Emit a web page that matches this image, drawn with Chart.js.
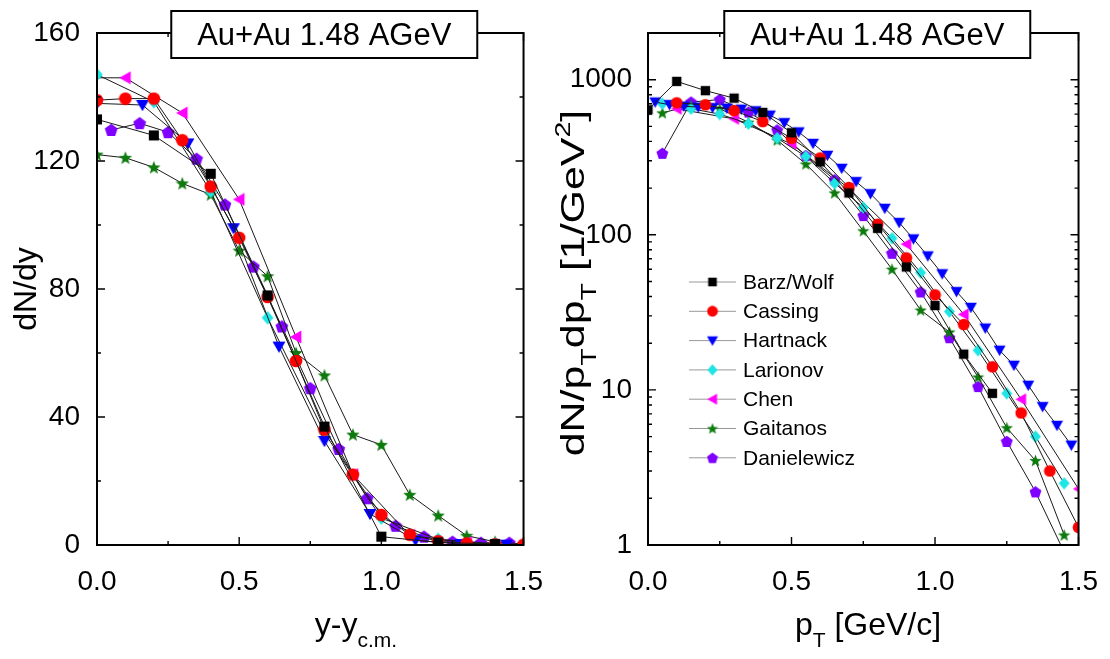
<!DOCTYPE html>
<html>
<head>
<meta charset="utf-8">
<script src="https://cdn.jsdelivr.net/npm/chart.js@4.4.0/dist/chart.umd.min.js"></script>
<style>
html, body { margin: 0; padding: 0; background: #fff; }
#wrap { display: flex; width: 1110px; height: 659px; }
.panel { position: relative; width: 555px; height: 659px; }
</style>
</head>
<body>
<div id="wrap">
  <div class="panel"><canvas id="rapChart"></canvas></div>
  <div class="panel"><canvas id="ptChart"></canvas></div>
</div>
<script>
// ---- rapidity distribution (left panel) ----
const rapBarzX = [0, 0.2, 0.4, 0.6, 0.8, 1.0, 1.2, 1.4]
const rapBarzY = [133, 128, 116, 78, 37, 2.6, 0.8, 0.3]
const rapCassingX = [0, 0.1, 0.2, 0.3, 0.4, 0.5, 0.6, 0.7, 0.8, 0.9, 1.0, 1.1, 1.2, 1.3, 1.4, 1.5]
const rapCassingY = [139, 139.5, 139.5, 126.5, 112, 96, 77.5, 57.5, 36, 22, 9.4, 3.2, 1.2, 0.5, 0.2, 0.1]
const rapHartnackX = [0, 0.16, 0.32, 0.48, 0.64, 0.8, 0.96, 1.12, 1.28, 1.44]
const rapHartnackY = [138, 137.5, 125.5, 99, 62, 32.5, 9.7, 1.5, 0.3, 0.1]
const rapLarionovX = [0, 0.2, 0.4, 0.6, 0.8, 1.0, 1.2, 1.4]
const rapLarionovY = [147, 138.5, 110.5, 71, 35, 8.4, 1.8, 0.4]
const rapChenX = [-0.1, 0.1, 0.3, 0.5, 0.7, 0.9, 1.1, 1.3, 1.5]
const rapChenY = [146, 146, 135, 108, 65, 22, 3, 0.7, 0.1]
const rapGaitanosX = [0, 0.1, 0.2, 0.3, 0.4, 0.5, 0.6, 0.7, 0.8, 0.9, 1.0, 1.1, 1.2, 1.3, 1.4, 1.5]
const rapGaitanosY = [122, 121, 118, 113, 109.5, 92, 84, 60, 53, 34.5, 31.3, 15.7, 9.2, 2.9, 1.0, 0.3]
const rapDanielewiczX = [0.05, 0.15, 0.25, 0.35, 0.45, 0.55, 0.65, 0.75, 0.85, 0.95, 1.05, 1.15, 1.25, 1.35, 1.45]
const rapDanielewiczY = [129.7, 131.8, 129, 120.7, 106.4, 87, 68.3, 49, 30, 14.6, 6.0, 2.6, 1.0, 0.7, 0.7]

// ---- transverse momentum spectra (right panel) ----
const ptBarzX = [0, 0.1, 0.2, 0.3, 0.4, 0.5, 0.6, 0.7, 0.8, 0.9, 1.0, 1.1, 1.2]
const ptBarzY = [640, 975, 850, 760, 615, 455, 295, 186, 110, 62, 35, 17, 9.5]
const ptCassingX = [0.1, 0.2, 0.3, 0.4, 0.5, 0.6, 0.7, 0.8, 0.9, 1.0, 1.1, 1.2, 1.3, 1.4, 1.5]
const ptCassingY = [709, 689, 632, 537, 419, 313, 202, 117, 71, 41, 26.4, 14.1, 7.1, 3.0, 1.3]
const ptHartnackX = [0.025, 0.075, 0.125, 0.175, 0.225, 0.275, 0.325, 0.375, 0.425, 0.475,
    0.525, 0.575, 0.625, 0.675, 0.725, 0.775, 0.825, 0.875, 0.925, 0.975,
    1.025, 1.075, 1.125, 1.175, 1.225, 1.275, 1.325, 1.375, 1.425, 1.475]
const ptHartnackY = [717, 690, 675, 665, 660, 655, 645, 630, 590, 528,
    460, 388, 325, 268, 220, 184, 148, 120, 94, 73,
    56, 43, 34, 25, 18, 14.4, 10.7, 7.8, 5.9, 4.4]
const ptLarionovX = [0.05, 0.15, 0.25, 0.35, 0.45, 0.55, 0.65, 0.75, 0.85, 0.95, 1.05, 1.15, 1.25, 1.35, 1.45]
const ptLarionovY = [700, 650, 600, 520, 420, 320, 215, 150, 95, 57, 32, 18, 9.5, 5.0, 2.5]
const ptChenX = [0.1, 0.3, 0.5, 0.7, 0.9, 1.1, 1.3, 1.5]
const ptChenY = [649, 559, 385, 199, 87, 30.7, 8.7, 2.3]
const ptGaitanosX = [0.05, 0.15, 0.25, 0.35, 0.45, 0.55, 0.65, 0.75, 0.85, 0.95, 1.05, 1.15, 1.25, 1.35, 1.45]
const ptGaitanosY = [611, 681, 649, 532, 408, 286, 186, 106, 60, 32.7, 23.6, 12.1, 5.7, 3.5, 1.16]
const ptDanielewiczX = [0.05, 0.15, 0.25, 0.35, 0.45, 0.55, 0.65, 0.75, 0.85, 0.95, 1.05, 1.15, 1.25, 1.35, 1.45]
const ptDanielewiczY = [335, 717, 745, 618, 474, 324, 226, 133, 76, 42.8, 21.7, 10.5, 4.65, 2.2, 0.9]

const seriesNames = ['Barz/Wolf', 'Cassing', 'Hartnack', 'Larionov', 'Chen', 'Gaitanos', 'Danielewicz']
const seriesColors = ['#000000', '#ff0000', '#0000ff', '#1ee6e6', '#ff00ff', '#0c7a0c', '#7f00ff']
const seriesShapes = ['square', 'circle', 'triDown', 'diamond', 'triLeft', 'star', 'pentagon']

const xTickLabels = [0, 0.5, 1.0, 1.5]
const rapTickLabels = [0, 40, 80, 120, 160]
const ptTickLabels = [1, 10, 100, 1000]

const FONT = "'Liberation Sans', Arial, Helvetica, sans-serif"

// marker images, drawn once and used as pointStyle
function marker(shape, color, s) {
    const c = document.createElement('canvas')
    c.width = s; c.height = s
    const g = c.getContext('2d')
    const m = s / 2
    g.fillStyle = color
    g.beginPath()
    if (shape === 'square') {
        const h = s * 0.36
        g.rect(m - h, m - h, 2 * h, 2 * h)
    } else if (shape === 'circle') {
        g.arc(m, m, s * 0.45, 0, Math.PI * 2)
    } else if (shape === 'triDown') {
        g.moveTo(m - s * 0.46, m - s * 0.36); g.lineTo(m + s * 0.46, m - s * 0.36); g.lineTo(m, m + s * 0.44)
    } else if (shape === 'triLeft') {
        g.moveTo(m - s * 0.44, m); g.lineTo(m + s * 0.38, m - s * 0.46); g.lineTo(m + s * 0.38, m + s * 0.46)
    } else if (shape === 'diamond') {
        g.moveTo(m, m - s * 0.48); g.lineTo(m + s * 0.42, m); g.lineTo(m, m + s * 0.48); g.lineTo(m - s * 0.42, m)
    } else if (shape === 'star') {
        for (let i = 0; i < 10; i++) {
            const r = i % 2 ? s * 0.21 : s * 0.5
            const a = -Math.PI / 2 + i * Math.PI / 5
            g.lineTo(m + r * Math.cos(a), m + 0.5 + r * Math.sin(a))
        }
    } else if (shape === 'pentagon') {
        for (let i = 0; i < 5; i++) {
            const a = -Math.PI / 2 + i * 2 * Math.PI / 5
            g.lineTo(m + s * 0.48 * Math.cos(a), m + 0.5 + s * 0.48 * Math.sin(a))
        }
    }
    g.closePath()
    g.fill()
    return c
}

const pts = (xs, ys) => xs.map((x, i) => ({ x: x, y: ys[i] }))

function buildSets(xsList, ysList, size) {
    return xsList.map((xs, i) => ({
        label: seriesNames[i],
        data: pts(xs, ysList[i]),
        showLine: true,
        borderColor: '#1a1a1a',
        borderWidth: 1,
        backgroundColor: seriesColors[i],
        pointStyle: marker(seriesShapes[i], seriesColors[i], size),
        pointRadius: size / 2,
        tension: 0,
    }))
}

// text with sub/superscripts; mode 0 normal, 1 sub, 2 sup
function drawRich(ctx, parts, x, y, size, vertical, stretch) {
    ctx.save()
    ctx.translate(x, y)
    if (vertical) ctx.rotate(-Math.PI / 2)
    if (stretch) ctx.scale(stretch, 1)
    const small = Math.round(size * 0.66)
    let total = 0
    const widths = parts.map(([t, mode]) => {
        ctx.font = (mode ? small : size) + 'px ' + FONT
        const w = ctx.measureText(t).width
        total += w
        return w
    })
    let cx = -total / 2
    ctx.fillStyle = '#000'
    ctx.textBaseline = 'alphabetic'
    ctx.textAlign = 'left'
    parts.forEach(([t, mode], i) => {
        ctx.font = (mode ? small : size) + 'px ' + FONT
        const dy = mode === 1 ? size * 0.36 : mode === 2 ? -size * 0.42 : 0
        ctx.fillText(t, cx, dy)
        cx += widths[i]
    })
    ctx.restore()
}

function decor(cfg) {
    return {
        id: 'decor',
        afterDatasetsDraw(chart) {
            const ctx = chart.ctx, a = chart.chartArea
            const xs = chart.scales.x, ys = chart.scales.y
            ctx.save()
            ctx.strokeStyle = '#000'
            ctx.lineWidth = 1.4
            ctx.beginPath()
            cfg.xTicks.forEach(([v, len]) => {
                const p = xs.getPixelForValue(v)
                ctx.moveTo(p, a.bottom); ctx.lineTo(p, a.bottom - len)
                ctx.moveTo(p, a.top); ctx.lineTo(p, a.top + len)
            })
            cfg.yTicks.forEach(([v, len]) => {
                const p = ys.getPixelForValue(v)
                ctx.moveTo(a.left, p); ctx.lineTo(a.left + len, p)
                ctx.moveTo(a.right, p); ctx.lineTo(a.right - len, p)
            })
            ctx.stroke()
            ctx.lineWidth = 2
            ctx.strokeRect(a.left, a.top, a.right - a.left, a.bottom - a.top)

            if (cfg.legend) {
                const lx = a.left + 41
                seriesNames.forEach((name, i) => {
                    const y = 282 + i * 29.3
                    ctx.strokeStyle = '#999'
                    ctx.lineWidth = 1
                    ctx.beginPath()
                    ctx.moveTo(lx, y); ctx.lineTo(lx + 47, y)
                    ctx.stroke()
                    const img = marker(seriesShapes[i], seriesColors[i], 12)
                    ctx.drawImage(img, lx + 23.5 - 6, y - 6)
                    ctx.fillStyle = '#000'
                    ctx.font = '21px ' + FONT
                    ctx.textAlign = 'left'
                    ctx.textBaseline = 'middle'
                    ctx.fillText(name, lx + 54, y + 1)
                })
            }

            // title box on the top axis
            const bx = (a.left + a.right) / 2 + 14
            ctx.strokeStyle = '#000'
            ctx.lineWidth = 2
            ctx.fillStyle = '#fff'
            ctx.fillRect(bx - 153, 11, 306, 47)
            ctx.strokeRect(bx - 153, 11, 306, 47)
            ctx.fillStyle = '#000'
            ctx.font = '31px ' + FONT
            ctx.textAlign = 'center'
            ctx.textBaseline = 'alphabetic'
            ctx.fillText('Au+Au 1.48 AGeV', bx, 45)

            drawRich(ctx, cfg.xTitle, cfg.xTitlePos[0], cfg.xTitlePos[1], 32, false)
            drawRich(ctx, cfg.yTitle, cfg.yTitlePos[0], cfg.yTitlePos[1], cfg.yTitleSize, true, cfg.yStretch)
            ctx.restore()
        }
    }
}

function axisX(h) {
    return {
        type: 'linear', min: 0, max: 1.5,
        grid: { display: false }, border: { display: false },
        afterBuildTicks: s => { s.ticks = xTickLabels.map(v => ({ value: v })) },
        afterFit: s => { s.height = h },
        ticks: { padding: 12, color: '#000', maxRotation: 0, font: { size: 28, family: FONT },
            callback: v => Number(v).toFixed(1) },
    }
}

const rapTicksY = []
for (let v = 0; v <= 160; v += 20) rapTicksY.push([v, v % 40 ? 4 : 8])
const xTicks = []
for (let v = 0; v <= 1.5001; v += 0.25) xTicks.push([Math.round(v * 100) / 100, Math.round(v * 100) % 50 ? 4 : 8])
const ptTicksY = []
ptTickLabels.forEach(d => {
    for (let k = 1; k <= 9; k++) if (d * k <= 2000) ptTicksY.push([d * k, k === 1 ? 8 : 4])
})

new Chart('rapChart', {
    type: 'scatter',
    data: {
        datasets: buildSets(
            [rapBarzX, rapCassingX, rapHartnackX, rapLarionovX, rapChenX, rapGaitanosX, rapDanielewiczX],
            [rapBarzY, rapCassingY, rapHartnackY, rapLarionovY, rapChenY, rapGaitanosY, rapDanielewiczY], 14)
    },
    options: {
        responsive: true, maintainAspectRatio: false, animation: false,
        layout: { padding: { left: 0, top: 33, right: 24, bottom: 0 } },
        plugins: { legend: { display: false }, tooltip: { enabled: false } },
        scales: {
            x: axisX(114),
            y: {
                type: 'linear', min: 0, max: 160,
                grid: { display: false }, border: { display: false },
                afterBuildTicks: s => { s.ticks = rapTickLabels.map(v => ({ value: v })) },
                afterFit: s => { s.width = 97 },
                ticks: { padding: 9, color: '#000', font: { size: 28, family: FONT } },
            },
        },
    },
    plugins: [decor({
        xTicks: xTicks, yTicks: rapTicksY,
        xTitle: [['y-y', 0], ['c.m.', 1]], xTitlePos: [356, 635],
        yTitle: [['dN/dy', 0]], yTitlePos: [36, 289], yTitleSize: 32,
    })],
})

new Chart('ptChart', {
    type: 'scatter',
    data: {
        datasets: buildSets(
            [ptBarzX, ptCassingX, ptHartnackX, ptLarionovX, ptChenX, ptGaitanosX, ptDanielewiczX],
            [ptBarzY, ptCassingY, ptHartnackY, ptLarionovY, ptChenY, ptGaitanosY, ptDanielewiczY], 13)
    },
    options: {
        responsive: true, maintainAspectRatio: false, animation: false,
        layout: { padding: { left: 0, top: 33, right: 26, bottom: 0 } },
        plugins: { legend: { display: false }, tooltip: { enabled: false } },
        scales: {
            x: axisX(114),
            y: {
                type: 'logarithmic', min: 1, max: 2000,
                grid: { display: false }, border: { display: false },
                afterBuildTicks: s => { s.ticks = ptTickLabels.map(v => ({ value: v })) },
                afterFit: s => { s.width = 93 },
                ticks: { padding: 8, color: '#000', font: { size: 28, family: FONT }, callback: v => String(v) },
            },
        },
    },
    plugins: [decor({
        xTicks: xTicks, yTicks: ptTicksY, legend: true,
        xTitle: [['p', 0], ['T', 1], [' [GeV/c]', 0]], xTitlePos: [313, 635],
        yTitle: [['dN/p', 0], ['T', 1], ['dp', 0], ['T', 1], [' [1/GeV', 0], ['2', 2], [']', 0]],
        yTitlePos: [29, 283], yTitleSize: 33, yStretch: 1.3,
    })],
})
</script>
</body>
</html>
